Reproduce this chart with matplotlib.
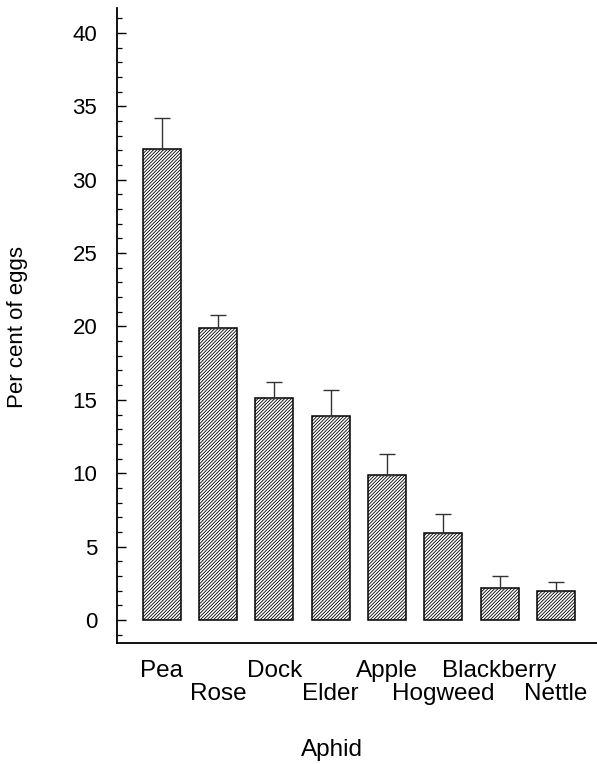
import matplotlib
matplotlib.use("Agg")
import matplotlib.pyplot as plt
from matplotlib.ticker import MultipleLocator

plt.rcParams["font.family"] = ["Liberation Sans", "DejaVu Sans"]
plt.rcParams["hatch.linewidth"] = 0.6
plt.rcParams["hatch.color"] = "#222222"

aphids = ["Pea", "Rose", "Dock", "Elder", "Apple", "Hogweed", "Blackberry", "Nettle"]
percent_eggs = [32.1, 19.9, 15.1, 13.9, 9.9, 5.9, 2.2, 2.0]
std_error = [2.1, 0.9, 1.1, 1.8, 1.4, 1.3, 0.8, 0.6]
y_ticks = [0, 5, 10, 15, 20, 25, 30, 35, 40]

W, H = 597, 764
fig = plt.figure(figsize=(W / 100, H / 100), dpi=100)

ax_left, ax_right, ax_top, ax_bottom = 116.7, 597, 8, 643.3
ax = fig.add_axes([ax_left / W, 1 - ax_bottom / H,
                   (ax_right - ax_left) / W, (ax_bottom - ax_top) / H])

x = list(range(len(aphids)))
ax.bar(x, percent_eggs, width=0.675, color="white", edgecolor="black",
       linewidth=1.1, hatch="//////////", zorder=2)
ax.errorbar(x, percent_eggs, yerr=[[0] * len(std_error), std_error],
            fmt="none", ecolor="#333333", elinewidth=1.0, capsize=5.5,
            capthick=1.0, zorder=3)

ax.set_xlim(-0.8, 7.73)
ax.set_ylim(-1.59, 41.7)

ax.set_yticks(y_ticks)
ax.set_yticklabels([str(t) for t in y_ticks])
ax.yaxis.set_minor_locator(MultipleLocator(1))
ax.tick_params(axis="y", which="major", direction="in", length=6.5,
               width=1.0, pad=14, labelsize=16)
ax.tick_params(axis="y", which="minor", direction="in", length=3.5, width=0.9)
ax.set_xticks([])

for side in ("top", "right"):
    ax.spines[side].set_visible(False)
for side in ("left", "bottom"):
    ax.spines[side].set_linewidth(1.3)

# category names on two staggered rows below the bars
span = ax_bottom - ax_top
upper_y = (ax_bottom - 677) / span
lower_y = (ax_bottom - 700) / span
xt = ax.get_xaxis_transform()
for i, name in enumerate(aphids):
    ax.text(i, upper_y if i % 2 == 0 else lower_y, name, transform=xt,
            ha="center", va="baseline", fontsize=17.5, clip_on=False)

ax.text((332 - ax_left) / (ax_right - ax_left), (ax_bottom - 756) / span,
        "Aphid", transform=ax.transAxes, ha="center", va="baseline",
        fontsize=17.5)
fig.text(18 / W, 1 - 327 / H, "Per cent of eggs", rotation=90,
         ha="center", va="center", fontsize=16)

fig.savefig("out.png", dpi=100)
